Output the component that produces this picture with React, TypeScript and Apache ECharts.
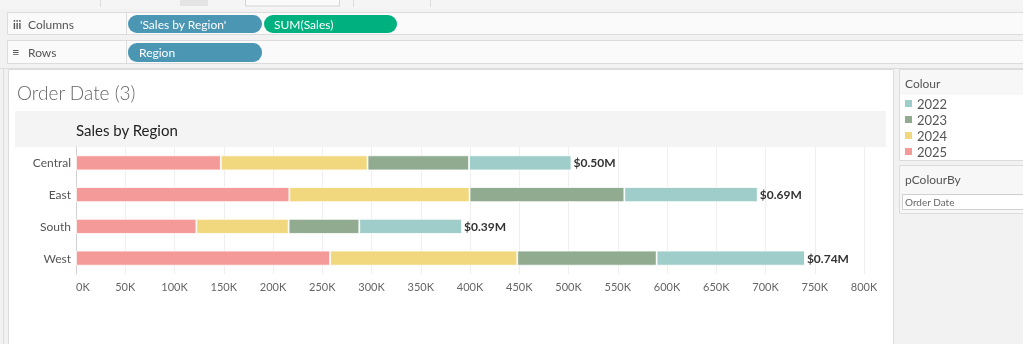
import React, { useEffect, useRef } from "react";
import * as echarts from "echarts";

const regions = ["Central", "East", "South", "West"];
const years = ["2022", "2023", "2024", "2025"];
const sales2025 = [147000, 216600, 122200, 257900];
const sales2024 = [149000, 183000, 93700, 190100];
const sales2023 = [103000, 157100, 71700, 141500];
const sales2022 = [104000, 135400, 104300, 150500];
const xTicksMax = 800000;
const xTickStep = 50000;

const colours: Record<string, string> = {
  "2022": "#9fcdc9",
  "2023": "#90ab90",
  "2024": "#f1d87f",
  "2025": "#f49a98",
};

const FONT = "Lato, 'Noto Sans', sans-serif";

export default function App() {
  const ref = useRef<HTMLDivElement>(null);
  useEffect(() => {
    if (!ref.current) return;
    const chart = echarts.init(ref.current, undefined, { renderer: "svg" });
    const totals = regions.map(
      (_, i) => sales2025[i] + sales2024[i] + sales2023[i] + sales2022[i]
    );
    const seriesData: [string, number[]][] = [
      ["2025", sales2025],
      ["2024", sales2024],
      ["2023", sales2023],
      ["2022", sales2022],
    ];
    const series: any[] = seriesData.map(([name, data]) => ({
      name,
      type: "bar",
      stack: "total",
      data,
      barWidth: 15,
      itemStyle: { color: colours[name], borderColor: "#ffffff", borderWidth: 0.8 },
      emphasis: { disabled: true },
      label:
        name === "2022"
          ? {
              show: true,
              position: "right",
              distance: 2,
              color: "#333",
              fontFamily: FONT,
              fontWeight: "bold",
              fontSize: 12,
              formatter: (p: any) => "$" + (totals[p.dataIndex] / 1e6).toFixed(2) + "M",
            }
          : { show: false },
    }));

    const txt = (text: string, x: number, y: number, font: string, fill: string, extra: any = {}) => ({
      type: "text",
      x,
      y,
      silent: true,
      style: { text, font, fill, verticalAlign: "middle", ...extra },
    });
    const rect = (x: number, y: number, w: number, h: number, fill: string, stroke?: string, r?: number) => ({
      type: "rect",
      silent: true,
      shape: { x, y, width: w, height: h, r: r || 0 },
      style: { fill, stroke: stroke || null, lineWidth: 1 },
    });
    const vline = (x: number, y1: number, y2: number, c: string) => ({
      type: "line",
      silent: true,
      shape: { x1: x, y1, x2: x, y2 },
      style: { stroke: c, lineWidth: 1 },
    });
    const hline = (y: number, x1: number, x2: number, c: string) => ({
      type: "line",
      silent: true,
      shape: { x1, y1: y, x2, y2: y },
      style: { stroke: c, lineWidth: 1 },
    });

    const graphic: any[] = [
      rect(0, 0, 1023, 344, "#f2f2f2"),
      // top strip
      rect(0, 0, 1023, 9, "#f5f5f5"),
      rect(180, 0, 28, 6, "#e4e4e4"),
      rect(245.5, -1, 94, 7, "#fafafa", "#d4d4d4"),
      vline(100.5, 0, 7, "#dcdcdc"),
      vline(353.5, 0, 7, "#dcdcdc"),
      vline(430.5, 0, 7, "#dcdcdc"),
      // shelves
      rect(7.5, 12.5, 1020, 22, "#fafafa", "#dcdcdc"),
      vline(126.5, 13, 34, "#dcdcdc"),
      rect(7.5, 40.5, 1020, 23, "#fafafa", "#dcdcdc"),
      vline(126.5, 41, 63, "#dcdcdc"),
      txt("iii", 13, 24, "bold 11px " + FONT, "#555"),
      txt("Columns", 28, 24, "12px " + FONT, "#555"),
      txt("\u2261", 12, 52, "13px " + FONT, "#555"),
      txt("Rows", 28, 52, "12px " + FONT, "#555"),
      rect(128, 15, 134, 18, "#4a96b3", undefined, 9),
      txt("'Sales by Region'", 140, 24, "12px " + FONT, "#ffffff"),
      rect(264, 15, 133, 18, "#00b180", undefined, 9),
      txt("SUM(Sales)", 274, 24, "12px " + FONT, "#ffffff"),
      rect(128, 43, 134, 19, "#4a96b3", undefined, 9),
      txt("Region", 139, 52.5, "12px " + FONT, "#ffffff"),
      // worksheet
      hline(68.5, 0, 1023, "#dcdcdc"),
      vline(3.5, 69, 344, "#dcdcdc"),
      rect(8.5, 69.5, 885, 280, "#ffffff", "#dcdcdc"),
      txt("Order Date (3)", 17, 92, "300 19px " + FONT, "#666"),
      rect(15, 111, 871, 36, "#f4f4f4"),
      txt("Sales by Region", 76, 130, "15px " + FONT, "#222"),
      // legend card
      rect(899.5, 69.5, 130, 91, "#ffffff", "#dcdcdc"),
      rect(900, 70, 130, 25, "#f7f7f7"),
      txt("Colour", 905, 83, "12px " + FONT, "#555"),
      // parameter card
      rect(899.5, 165.5, 130, 48, "#f7f7f7", "#dcdcdc"),
      txt("pColourBy", 905, 179, "12px " + FONT, "#555"),
      rect(902.5, 194.5, 125, 15, "#ffffff", "#cfcfcf"),
      txt("Order Date", 905, 202, "10px " + FONT, "#666"),
    ];

    chart.setOption({
      animation: false,
      textStyle: { fontFamily: FONT },
      graphic: { elements: graphic },
      legend: {
        data: years,
        orient: "vertical",
        left: 903,
        top: 97,
        padding: 0,
        itemWidth: 9,
        itemHeight: 9,
        itemGap: 3,
        icon: "rect",
        selectedMode: false,
        textStyle: { fontSize: 13, lineHeight: 13, color: "#555", fontFamily: FONT, padding: [0, 0, 0, -1] },
        z: 10,
      },
      grid: { left: 76, width: 788, top: 147, height: 127, containLabel: false, z: 5 },
      xAxis: {
        type: "value",
        min: 0,
        max: xTicksMax,
        interval: xTickStep,
        axisLine: { show: false },
        axisTick: { show: false },
        splitLine: { show: true, lineStyle: { color: "#efefef", width: 1 } },
        axisLabel: {
          color: "#666",
          fontSize: 11,
          margin: 7,
          fontFamily: FONT,
          alignMinLabel: "left",
          formatter: (v: number) => v / 1000 + "K",
        },
      },
      yAxis: {
        type: "category",
        data: regions,
        inverse: true,
        axisLine: { show: true, lineStyle: { color: "#cccccc", type: "dotted" } },
        axisTick: { show: false },
        axisLabel: { color: "#555", fontSize: 12, margin: 5, fontFamily: FONT },
      },
      series,
    });
    return () => chart.dispose();
  }, []);
  return (
    <div
      ref={ref}
      style={{ position: "fixed", left: 0, top: 0, width: 1023, height: 344 }}
    />
  );
}
